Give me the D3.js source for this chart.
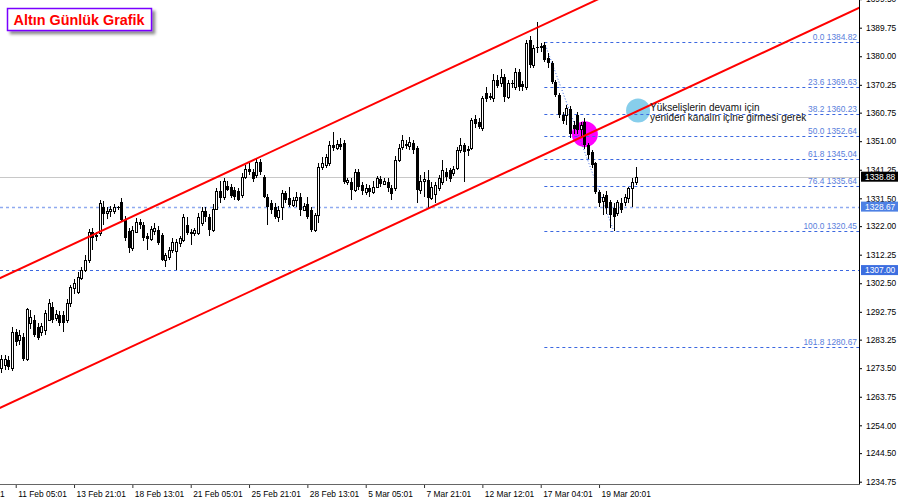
<!DOCTYPE html>
<html>
<head>
<meta charset="utf-8">
<script src="https://cdn.jsdelivr.net/npm/d3@7"></script>
<style>
  body { margin: 0; background: #fff; }
  svg { display: block; font-family: "Liberation Sans", Arial, sans-serif; }
</style>
</head>
<body>
<svg id="chart" width="900" height="500"></svg>
<script>
// XAUUSD H4 candles (bar 0 = leftmost candle)
const opens = [1273.5,1274.5,1276.3,1273.5,1286.0,1283.0,1284.3,1276.8,1288.8,1290.0,
  1287.7,1285.9,1286.5,1290.0,1294.5,1290.5,1291.7,1291.5,1290.0,1295.7,
  1300.8,1299.6,1304.2,1307.0,1310.4,1320.0,1318.5,1319.5,1328.5,1326.6,
  1327.0,1327.0,1328.5,1330.4,1324.1,1320.5,1314.7,1320.1,1323.5,1322.4,
  1318.5,1317.5,1320.5,1320.7,1319.0,1310.5,1311.6,1313.8,1313.5,1316.1,
  1317.3,1322.4,1320.0,1319.5,1319.5,1323.0,1327.0,1325.2,1320.7,1328.0,
  1334.0,1332.0,1335.8,1335.5,1334.5,1334.0,1332.6,1338.9,1341.5,1340.5,
  1339.5,1344.0,1338.9,1332.1,1329.8,1328.7,1325.0,1328.6,1333.2,1331.5,
  1329.2,1330.9,1332.0,1327.5,1329.5,1327.5,1320.7,1325.8,1342.3,1342.9,
  1343.5,1349.7,1348.6,1350.0,1350.3,1337.2,1337.2,1334.3,1340.6,1336.0,
  1333.5,1335.0,1333.5,1335.5,1338.0,1336.5,1337.0,1335.0,1334.9,1344.6,
  1349.0,1350.0,1349.5,1350.5,1348.6,1334.3,1337.5,1337.8,1331.5,1333.0,
  1334.9,1337.0,1340.6,1341.0,1340.0,1341.7,1348.0,1349.7,1348.5,1348.6,
  1358.5,1357.6,1355.4,1367.5,1366.0,1365.6,1371.9,1370.8,1373.0,1366.2,
  1371.0,1369.6,1374.7,1370.5,1369.6,1385.5,1377.0,1383.0,1383.0,1384.0,
  1379.3,1377.6,1371.3,1366.8,1360.0,1359.9,1362.0,1356.5,1359.9,1355.0,
  1357.7,1349.7,1347.4,1343.5,1333.8,1330.5,1332.6,1330.4,1328.1,1326.4,
  1330.0,1330.4,1331.5,1334.9,1337.2];
const highs = [1278.0,1278.0,1277.5,1287.5,1287.0,1286.5,1285.5,1294.0,1293.5,1291.5,
  1289.0,1289.0,1293.5,1297.0,1296.0,1293.5,1293.0,1293.0,1297.0,1302.0,
  1304.0,1306.3,1308.0,1312.0,1321.0,1321.5,1320.0,1331.0,1330.5,1328.5,
  1329.0,1329.5,1329.0,1331.5,1325.5,1321.5,1322.0,1324.7,1324.5,1323.5,
  1319.5,1322.0,1323.0,1322.0,1319.5,1313.0,1315.0,1318.0,1317.5,1318.5,
  1326.0,1325.0,1321.0,1321.5,1326.5,1328.5,1328.7,1326.0,1329.5,1335.0,
  1337.5,1338.5,1337.5,1336.5,1335.5,1335.0,1340.0,1343.0,1343.5,1341.5,
  1345.0,1345.0,1339.5,1333.0,1331.0,1330.0,1329.0,1334.5,1334.0,1335.5,
  1332.0,1333.5,1333.2,1330.0,1332.0,1328.5,1326.5,1343.5,1345.5,1346.5,
  1351.0,1354.0,1351.5,1352.0,1351.5,1338.5,1338.5,1341.5,1341.5,1337.0,
  1336.5,1336.0,1337.5,1339.0,1339.0,1338.5,1338.5,1336.0,1346.0,1350.0,
  1353.1,1351.5,1352.4,1351.5,1349.5,1339.5,1340.5,1341.0,1337.0,1337.0,
  1339.5,1344.5,1342.0,1342.0,1342.5,1349.0,1352.0,1350.5,1349.5,1359.0,
  1360.0,1359.0,1366.5,1369.5,1367.5,1374.0,1373.5,1375.5,1374.0,1372.0,
  1372.0,1376.0,1375.5,1371.5,1385.5,1387.0,1384.0,1391.8,1384.5,1385.0,
  1381.0,1378.5,1372.0,1367.5,1361.0,1363.5,1363.0,1358.0,1361.0,1357.5,
  1359.0,1350.5,1348.0,1344.0,1334.5,1333.0,1334.0,1331.0,1330.0,1331.0,
  1331.5,1333.0,1335.5,1338.5,1342.3];
const lows = [1272.0,1273.0,1272.8,1272.5,1281.0,1281.5,1276.0,1276.0,1287.0,1284.0,
  1283.0,1284.5,1285.0,1289.5,1289.0,1289.5,1288.0,1286.0,1289.0,1294.5,
  1299.0,1299.0,1303.5,1306.5,1309.5,1314.0,1317.0,1318.5,1322.4,1324.5,
  1325.0,1326.0,1327.5,1323.5,1317.0,1313.0,1313.5,1319.5,1321.0,1317.0,
  1313.9,1317.0,1319.0,1315.5,1310.0,1308.0,1310.5,1313.0,1307.0,1315.0,
  1316.5,1319.0,1315.6,1318.5,1319.0,1322.0,1323.5,1318.5,1320.0,1327.5,
  1330.0,1331.0,1334.0,1331.5,1331.0,1330.5,1331.5,1338.0,1339.5,1337.0,
  1338.5,1339.5,1331.5,1322.5,1326.0,1324.5,1323.5,1324.0,1330.0,1328.5,
  1328.5,1328.5,1325.5,1327.0,1324.5,1320.0,1320.0,1323.0,1341.0,1342.0,
  1342.5,1347.5,1348.0,1348.0,1336.5,1336.0,1331.0,1333.5,1334.5,1332.5,
  1332.5,1332.0,1333.0,1335.0,1335.5,1336.0,1333.5,1331.0,1334.0,1344.0,
  1348.0,1348.5,1348.0,1346.8,1329.8,1333.0,1332.0,1328.0,1331.0,1330.0,
  1334.0,1336.0,1337.5,1337.0,1339.0,1341.0,1347.0,1337.2,1346.0,1348.0,
  1355.5,1355.0,1354.5,1364.5,1365.0,1364.5,1369.0,1369.5,1364.5,1365.5,
  1369.0,1368.5,1368.0,1368.0,1368.5,1376.0,1376.0,1381.0,1381.5,1378.0,
  1376.0,1370.5,1366.0,1359.0,1357.0,1356.5,1352.0,1353.5,1353.5,1352.0,
  1348.5,1345.0,1342.0,1333.0,1328.5,1325.8,1326.0,1321.3,1320.45,1325.5,
  1326.5,1329.0,1330.0,1328.7,1336.0];
const closes = [1276.5,1276.5,1274.0,1286.0,1282.5,1284.8,1276.5,1293.6,1291.1,1284.8,
  1283.7,1287.9,1292.2,1295.7,1290.0,1292.0,1288.8,1289.0,1295.7,1301.3,
  1302.5,1304.8,1307.0,1310.4,1320.1,1318.0,1319.0,1329.8,1326.0,1327.0,
  1327.7,1328.7,1328.2,1324.1,1317.8,1314.5,1320.7,1323.5,1322.5,1317.8,
  1317.5,1321.0,1321.5,1316.1,1310.4,1312.2,1313.8,1316.7,1316.5,1317.8,
  1325.2,1319.5,1319.3,1320.7,1325.2,1327.0,1325.0,1320.7,1327.8,1334.0,
  1331.5,1337.5,1334.5,1332.3,1332.0,1331.0,1338.9,1341.5,1340.5,1338.0,
  1344.0,1340.5,1332.1,1328.7,1327.5,1325.2,1327.5,1333.2,1330.9,1329.2,
  1331.0,1332.0,1327.5,1329.0,1325.0,1320.7,1325.8,1342.3,1343.5,1345.7,
  1349.7,1348.6,1350.0,1349.0,1337.2,1337.7,1334.5,1340.6,1335.5,1334.0,
  1335.0,1333.8,1335.5,1338.3,1336.5,1337.5,1335.0,1333.0,1344.6,1348.6,
  1351.5,1349.5,1350.6,1348.0,1334.3,1337.5,1338.0,1331.5,1335.5,1336.0,
  1338.3,1341.0,1338.9,1338.0,1341.5,1348.0,1349.7,1347.4,1347.5,1358.2,
  1357.0,1356.0,1365.6,1365.5,1366.5,1371.9,1370.0,1373.0,1366.2,1371.0,
  1370.5,1374.7,1369.6,1369.5,1384.4,1377.0,1382.7,1382.7,1383.5,1378.7,
  1377.6,1371.3,1366.8,1359.9,1358.0,1362.2,1353.5,1355.0,1354.8,1356.5,
  1349.7,1346.3,1342.9,1333.8,1329.8,1332.0,1328.1,1325.8,1325.2,1330.4,
  1327.5,1332.1,1334.9,1337.2,1338.88];

// time axis labels (every 16 bars)
const timeLabelBars = [-12, 4, 20, 36, 52, 68, 84, 100, 116, 132, 148, 164];
const timeLabels = ["6 Feb 13:01", "11 Feb 05:01", "13 Feb 21:01", "18 Feb 13:01", "21 Feb 05:01",
  "25 Feb 21:01", "28 Feb 13:01", "5 Mar 05:01", "7 Mar 21:01", "12 Mar 12:01",
  "17 Mar 04:01", "19 Mar 20:01"];

// price axis labels
const priceTicks = [1399.50, 1389.75, 1380.00, 1370.25, 1360.75, 1351.00, 1341.25, 1331.50,
  1322.00, 1312.25, 1302.50, 1292.75, 1283.25, 1273.50, 1263.75, 1254.00, 1244.50, 1234.75];

// fibonacci retracement
const fibLevels = ["0.0", "23.6", "38.2", "50.0", "61.8", "76.4", "100.0", "161.8"];
const fibPrices = [1384.82, 1369.63, 1360.23, 1352.64, 1345.04, 1335.64, 1320.45, 1280.67];
const fibStartBar = 149, fibEndBar = 168;

// channel lines: [bar, price] anchors
const upperChannel = [[0, 1304.4], [160, 1397.3]];
const lowerChannel = [[0, 1260.1], [160, 1352.85]];

const bidPrice = 1338.88;
const hLines = [1328.67, 1307.00];

// marker circles: [bar, price]
const magentaMark = [160.1, 1353.4];
const blueMark = [174.7, 1361.5];
const noteLines = ["Yükselişlerin devamı için", "yeniden kanalın içine girmesi gerek"];

const plotRight = 859, plotBottom = 484;

const svg = d3.select("#chart");

const x = d3.scaleLinear().domain([0, 174]).range([1.12, 635.5]);
const y = d3.scaleLinear().domain([1234.75, 1389.75]).range([481.7, 27.7]);

const defs = svg.append("defs");
defs.append("clipPath").attr("id", "plotClip")
  .append("rect").attr("x", 0).attr("y", 0).attr("width", plotRight).attr("height", plotBottom);
defs.append("filter").attr("id", "shadow")
  .attr("x", "-20%").attr("y", "-40%").attr("width", "150%").attr("height", "200%")
  .append("feDropShadow").attr("dx", 3).attr("dy", 3).attr("stdDeviation", 1.6)
  .attr("flood-color", "#000").attr("flood-opacity", 0.45);

const plot = svg.append("g").attr("clip-path", "url(#plotClip)");

// marker circles sit behind everything else
plot.append("circle").attr("cx", x(magentaMark[0])).attr("cy", y(magentaMark[1])).attr("r", 13)
  .attr("fill", "#ff00ff");
plot.append("circle").attr("cx", x(blueMark[0])).attr("cy", y(blueMark[1])).attr("r", 12)
  .attr("fill", "#87ceeb");

// bid line
plot.append("line")
  .attr("x1", 0).attr("x2", plotRight)
  .attr("y1", Math.round(y(bidPrice)) + 0.5).attr("y2", Math.round(y(bidPrice)) + 0.5)
  .attr("stroke", "#c8c8c8").attr("stroke-width", 1);

// horizontal levels
plot.append("line")
  .attr("x1", 0).attr("x2", plotRight)
  .attr("y1", Math.round(y(hLines[0])) + 0.5).attr("y2", Math.round(y(hLines[0])) + 0.5)
  .attr("stroke", "#8faaf0").attr("stroke-width", 1.4).attr("stroke-dasharray", "3,3");
plot.append("line")
  .attr("x1", 0).attr("x2", plotRight)
  .attr("y1", Math.round(y(hLines[1])) + 0.5).attr("y2", Math.round(y(hLines[1])) + 0.5)
  .attr("stroke", "#3c68e0").attr("stroke-width", 1).attr("stroke-dasharray", "3,3");

// fibonacci
const fib = plot.append("g");
fibPrices.forEach((p, i) => {
  const yy = Math.round(y(p)) + 0.5;
  fib.append("line")
    .attr("x1", x(fibStartBar)).attr("x2", plotRight).attr("y1", yy).attr("y2", yy)
    .attr("stroke", "#3c68e0").attr("stroke-width", 1).attr("stroke-dasharray", "3,3");
  fib.append("text")
    .attr("x", plotRight - 2).attr("y", yy - 2.5)
    .attr("text-anchor", "end").attr("font-size", 8.4).attr("fill", "#5a80dc")
    .text(fibLevels[i] + " " + p.toFixed(2));
});
plot.append("line")
  .attr("x1", x(fibStartBar)).attr("y1", y(fibPrices[0]))
  .attr("x2", x(fibEndBar)).attr("y2", y(fibPrices[6]))
  .attr("stroke", "#3c68e0").attr("stroke-width", 1).attr("stroke-dasharray", "1,2");

// candles
const candles = plot.append("g").attr("shape-rendering", "crispEdges");
d3.range(opens.length).forEach(i => {
  const cx = Math.round(x(i));
  const o = opens[i], c = closes[i];
  const bull = c >= o;
  candles.append("line")
    .attr("x1", cx + 0.5).attr("x2", cx + 0.5)
    .attr("y1", Math.round(y(highs[i]))).attr("y2", Math.round(y(lows[i])))
    .attr("stroke", "#000").attr("stroke-width", 1);
  const top = Math.round(y(Math.max(o, c))), bot = Math.round(y(Math.min(o, c)));
  if (bull) {
    candles.append("rect")
      .attr("x", cx - 0.5).attr("y", top + 0.5)
      .attr("width", 2).attr("height", Math.max(bot - top, 1))
      .attr("fill", "#fff").attr("stroke", "#000").attr("stroke-width", 1);
  } else {
    candles.append("rect")
      .attr("x", cx - 1).attr("y", top)
      .attr("width", 3).attr("height", Math.max(bot - top, 1))
      .attr("fill", "#000");
  }
});

// channel lines (rays both ways, clipped)
function channel(pts) {
  const [a, b] = pts;
  const slope = (b[1] - a[1]) / (b[0] - a[0]);
  const b0 = -10, b1 = 260;
  plot.append("line")
    .attr("x1", x(b0)).attr("y1", y(a[1] + slope * (b0 - a[0])))
    .attr("x2", x(b1)).attr("y2", y(a[1] + slope * (b1 - a[0])))
    .attr("stroke", "#ff0000").attr("stroke-width", 2);
}
channel(upperChannel);
channel(lowerChannel);

// note
noteLines.forEach((t, i) => {
  plot.append("text")
    .attr("x", x(blueMark[0]) + 12).attr("y", y(blueMark[1]) + 1 + i * 10)
    .attr("font-size", 10).attr("fill", "#111").text(t);
});

// right axis
const yAxis = d3.axisRight(y).tickValues(priceTicks).tickSize(3).tickPadding(4)
  .tickFormat(d3.format(".2f"));
const ya = svg.append("g").attr("transform", `translate(${plotRight},0)`).call(yAxis);
ya.select(".domain").remove();
ya.selectAll("text").attr("font-size", 8.4).attr("fill", "#000")
  .attr("font-family", "Liberation Sans, Arial, sans-serif");
ya.selectAll("line").attr("stroke", "#000");
svg.append("line").attr("x1", plotRight + 0.5).attr("x2", plotRight + 0.5)
  .attr("y1", 0).attr("y2", plotBottom + 0.5).attr("stroke", "#000");

// bottom axis
const xAxis = d3.axisBottom(x).tickValues(timeLabelBars).tickSize(4).tickPadding(3)
  .tickFormat((d, i) => timeLabels[i]);
const xa = svg.append("g").attr("transform", `translate(0,${plotBottom})`).call(xAxis);
xa.select(".domain").remove();
xa.selectAll("text").attr("font-size", 8.4).attr("fill", "#000").attr("text-anchor", "start")
  .attr("dx", 2).attr("font-family", "Liberation Sans, Arial, sans-serif");
xa.selectAll("line").attr("stroke", "#333");
svg.append("line").attr("x1", 0).attr("x2", plotRight + 1)
  .attr("y1", plotBottom + 0.5).attr("y2", plotBottom + 0.5).attr("stroke", "#666");

// price tags on the axis
function tag(p, bg, fg) {
  const yy = y(p);
  svg.append("rect").attr("x", plotRight + 2).attr("y", yy - 5)
    .attr("width", 37).attr("height", 10).attr("fill", bg);
  svg.append("text").attr("x", plotRight + 6).attr("y", yy + 3)
    .attr("font-size", 8.4).attr("fill", fg).text(p.toFixed(2));
}
tag(bidPrice, "#000", "#fff");
tag(hLines[0], "#4d80e4", "#fff");
tag(hLines[1], "#3c6ee0", "#fff");

// title box
const title = svg.append("g");
title.append("rect").attr("x", 7.5).attr("y", 8.5).attr("width", 144).attr("height", 22)
  .attr("fill", "#fff").attr("stroke", "#7a00ff").attr("stroke-width", 1.5)
  .attr("filter", "url(#shadow)");
title.append("text").attr("x", 13.5).attr("y", 25)
  .attr("font-size", 14.4).attr("font-weight", "bold").attr("fill", "#ff0000")
  .text("Altın Günlük Grafik");
</script>
</body>
</html>
